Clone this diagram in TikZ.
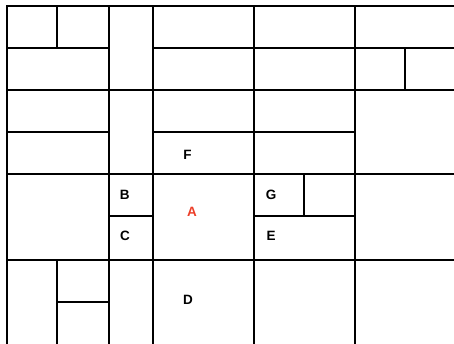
\documentclass[tikz,border=0pt]{standalone}
\usepackage{fontspec}
\setmainfont{Liberation Sans}
\usepackage{xcolor}
\usepackage{tikz}
\definecolor{roomred}{RGB}{236,62,40}

\begin{document}
\begin{tikzpicture}[
    x=1pt, y=-1pt,
    room/.style={draw, line width=1.4pt},
    tag/.style={inner sep=0pt, font=\fontsize{13.5}{15}\selectfont\bfseries},
    redtag/.style={tag, text=roomred}
]
    \useasboundingbox (0,0) rectangle (454,343);
    \clip (0,0) rectangle (454,343);

    % rows of rooms
    \foreach \xa/\ya/\xb/\yb in {7/6/57/48, 57/6/109/48, 109/6/153/90, 153/6/254/48, 254/6/355/48, 355/6/470/48,
        7/48/109/90, 153/48/254/90, 254/48/355/90, 355/48/405/90, 405/48/470/90,
        7/90/109/132, 109/90/153/174, 153/90/254/132, 254/90/355/132, 355/90/470/174,
        7/132/109/174, 153/132/254/174, 254/132/355/174,
        7/174/109/260, 109/174/153/216, 109/216/153/260, 153/174/254/260,
        254/174/304/216, 304/174/355/216, 254/216/355/260, 355/174/470/260,
        7/260/57/360, 57/260/109/302, 57/302/109/360, 109/260/153/360,
        153/260/254/360, 254/260/355/360, 355/260/470/360}
        \draw[room] (\xa,\ya) rectangle (\xb,\yb);

    \node[redtag] (a) at (192,212) {A};
    \node[tag] (b) at (124.7,194.5) {B};
    \node[tag] (c) at (125,236) {C};
    \node[tag] (d) at (188,300) {D};
    \node[tag] (e) at (271,236) {E};
    \node[tag] (f) at (187.5,155) {F};
    \node[tag] (g) at (271,194.5) {G};
\end{tikzpicture}
\end{document}
